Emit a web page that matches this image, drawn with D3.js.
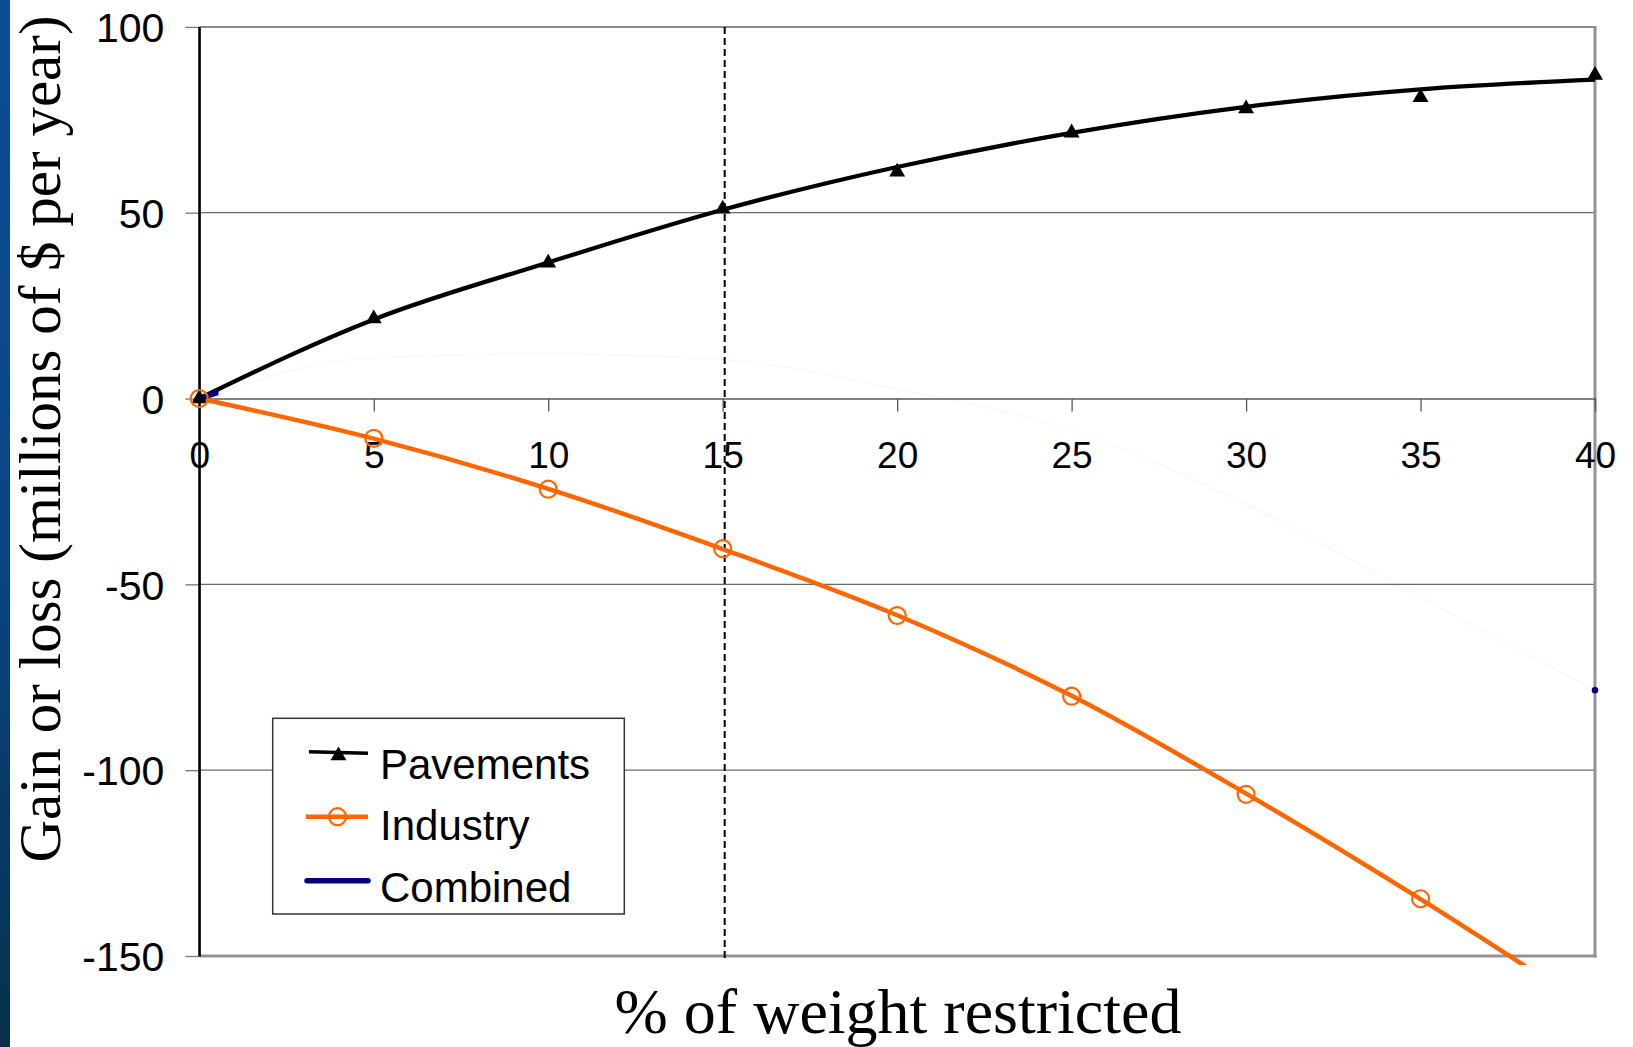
<!DOCTYPE html>
<html>
<head>
<meta charset="utf-8">
<script src="https://cdn.jsdelivr.net/npm/d3@7"></script>
<style>
  html, body { margin: 0; padding: 0; background: #ffffff; }
  svg { display: block; }
</style>
</head>
<body>
<svg id="chart" width="1633" height="1047"></svg>
<script>
// ---- data ----
const pctRestricted = [0, 5, 10, 15, 20, 25, 30, 35, 40];
const pavements     = [0, 21.5, 36.5, 51, 61, 71.5, 78, 81, 87];
const pavementsFit  = [0, 21.3, 36.6, 50.8, 62.3, 71.5, 78.5, 83.2, 85.8];
const industry      = [0, -10.7, -24.4, -40.4, -58.4, -80.1, -106.5, -134.6, -165];
const industryFit   = [0, -10.8, -24.3, -40.5, -58.3, -80, -106.3, -134.7, -165];
const combined      = [0, 11, 12, 10.5, 2.5, -8.5, -28.5, -53.5, -78.5];
const xTicks = [0, 5, 10, 15, 20, 25, 30, 35, 40];
const yTicks = [100, 50, 0, -50, -100, -150];
const markerX = 15;
const seriesNames = ["Pavements", "Industry", "Combined"];
const xTitle = "% of weight restricted";
const yTitle = "Gain or loss (millions of $ per year)";

// ---- setup ----
const svg = d3.select("#chart");
const sans = "'Liberation Sans', Arial, sans-serif";
const serif = "'Liberation Serif', 'Times New Roman', serif";
const colPave = "#000000", colInd = "#ff6600", colComb = "#000080";
const plainNum = d => String(d);   // hyphen-minus for negatives

const x = d3.scaleLinear().domain([0, 40]).range([199.3, 1595]);
const y = d3.scaleLinear().domain([-150, 100]).range([956, 26.9]);

// blue slide edge on the left
const defs = svg.append("defs");
const grad = defs.append("linearGradient").attr("id", "edge")
  .attr("x1", 0).attr("y1", 0).attr("x2", 0).attr("y2", 1);
grad.append("stop").attr("offset", "0%").attr("stop-color", "#0d4c98");
grad.append("stop").attr("offset", "55%").attr("stop-color", "#0b447f");
grad.append("stop").attr("offset", "100%").attr("stop-color", "#08304c");
svg.append("rect").attr("x", 0).attr("y", 0).attr("width", 10).attr("height", 1047)
  .attr("fill", "url(#edge)");

// clip regions for the series lines
defs.append("clipPath").attr("id", "plotClip").append("rect")
  .attr("x", x(0) - 15).attr("y", y(100) - 15)
  .attr("width", x(40) - x(0) + 15).attr("height", y(-150) - y(100) + 24);
defs.append("clipPath").attr("id", "stubClip").append("rect")
  .attr("x", x(0) - 2).attr("y", y(100))
  .attr("width", x(0.55) - x(0) + 2).attr("height", y(-150) - y(100));

// ---- gridlines and frame ----
const grid = svg.append("g");
grid.selectAll("line.g").data(yTicks.filter(v => v !== 0 && v !== 100 && v !== -150))
  .join("line").attr("class", "g")
  .attr("x1", x(0)).attr("x2", x(40))
  .attr("y1", d => y(d)).attr("y2", d => y(d))
  .attr("stroke", "#6a6a6a").attr("stroke-width", 1.3);
// top edge
grid.append("line").attr("x1", x(0)).attr("x2", x(40) + 1.5)
  .attr("y1", y(100)).attr("y2", y(100))
  .attr("stroke", "#8a8a8a").attr("stroke-width", 2);
// right and bottom edges
grid.append("line").attr("x1", x(40)).attr("x2", x(40))
  .attr("y1", y(100)).attr("y2", y(-150) + 1.5)
  .attr("stroke", "#939393").attr("stroke-width", 3);
grid.append("line").attr("x1", x(0)).attr("x2", x(40) + 1.5)
  .attr("y1", y(-150)).attr("y2", y(-150))
  .attr("stroke", "#939393").attr("stroke-width", 3);

// ---- axes ----
const yAxis = svg.append("g").attr("transform", `translate(${x(0)},0)`)
  .call(d3.axisLeft(y).tickValues(yTicks).tickSize(14).tickSizeOuter(0).tickPadding(21)
    .tickFormat(plainNum));
yAxis.select(".domain").attr("stroke", "#000").attr("stroke-width", 2);
yAxis.selectAll(".tick line").attr("stroke", "#777").attr("stroke-width", 1.3);
yAxis.selectAll(".tick text").attr("font-family", sans).attr("font-size", 41)
  .attr("fill", "#000").attr("dy", "0.36em");

const xAxis = svg.append("g").attr("transform", `translate(0,${y(0)})`)
  .call(d3.axisBottom(x).tickValues(xTicks).tickSize(13).tickSizeOuter(0).tickPadding(30)
    .tickFormat(plainNum));
xAxis.select(".domain").attr("stroke", "#5a5a5a").attr("stroke-width", 1.6);
xAxis.selectAll(".tick line").attr("stroke", "#555").attr("stroke-width", 1.3);
xAxis.selectAll(".tick text").attr("font-family", sans).attr("font-size", 37).attr("fill", "#000");
// y axis line redrawn on top of the zero line
svg.append("line").attr("x1", x(0)).attr("x2", x(0)).attr("y1", y(100)).attr("y2", y(-150))
  .attr("stroke", "#000").attr("stroke-width", 2);

// dashed marker at 15 %
svg.append("line").attr("x1", x(markerX) + 2).attr("x2", x(markerX) + 2)
  .attr("y1", y(100)).attr("y2", y(-150) + 4)
  .attr("stroke", "#000").attr("stroke-width", 2).attr("stroke-dasharray", "7,4");

// ---- series ----
const line = d3.line().x((d, i) => x(pctRestricted[i])).y(d => y(d)).curve(d3.curveMonotoneX);
const series = svg.append("g").attr("clip-path", "url(#plotClip)");

series.append("path").attr("d", line(industryFit)).attr("fill", "none")
  .attr("stroke", colInd).attr("stroke-width", 4.5).attr("stroke-linejoin", "round");
series.append("path").attr("d", line(pavementsFit)).attr("fill", "none")
  .attr("stroke", colPave).attr("stroke-width", 4.3).attr("stroke-linejoin", "round");

// combined series: faint trace with a solid start and end
series.append("path").attr("d", line(combined)).attr("fill", "none")
  .attr("stroke", colComb).attr("stroke-opacity", 0.03).attr("stroke-width", 1.5);
series.append("path").attr("d", line(combined)).attr("fill", "none")
  .attr("clip-path", "url(#stubClip)")
  .attr("stroke", colComb).attr("stroke-width", 5.5);
svg.append("circle").attr("cx", x(pctRestricted[8])).attr("cy", y(combined[8]))
  .attr("r", 3.3).attr("fill", colComb);

// markers
const tri = d3.symbol().type(d3.symbolTriangle).size(110);
svg.append("g").selectAll("path").data(pavements).join("path")
  .attr("d", tri).attr("fill", colPave)
  .attr("transform", (d, i) => `translate(${x(pctRestricted[i])},${y(d)})`);
svg.append("g").selectAll("circle")
  .data(industry.map((v, i) => [pctRestricted[i], v]).filter(p => p[1] >= -150))
  .join("circle")
  .attr("cx", d => x(d[0])).attr("cy", d => y(d[1])).attr("r", 8.5)
  .attr("fill", "none").attr("stroke", colInd).attr("stroke-width", 2.2);

// ---- legend ----
const lg = svg.append("g");
lg.append("rect").attr("x", 272.7).attr("y", 718.3).attr("width", 351.6).attr("height", 195.7)
  .attr("fill", "#fff").attr("stroke", "#333").attr("stroke-width", 1.5);
const rows = [
  { name: seriesNames[0], ly: 751.7, ty: 779.3 },
  { name: seriesNames[1], ly: 816.7, ty: 840.0 },
  { name: seriesNames[2], ly: 880.7, ty: 901.7 }
];
// Pavements
lg.append("line").attr("x1", 309).attr("x2", 368).attr("y1", rows[0].ly).attr("y2", rows[0].ly + 1.5)
  .attr("stroke", colPave).attr("stroke-width", 3.5);
lg.append("path").attr("d", tri).attr("fill", colPave)
  .attr("transform", `translate(338.5,${rows[0].ly + 4})`);
// Industry
lg.append("line").attr("x1", 306).attr("x2", 368).attr("y1", rows[1].ly).attr("y2", rows[1].ly)
  .attr("stroke", colInd).attr("stroke-width", 4.5);
lg.append("circle").attr("cx", 337.5).attr("cy", rows[1].ly).attr("r", 8.5)
  .attr("fill", "none").attr("stroke", colInd).attr("stroke-width", 2.2);
// Combined
lg.append("line").attr("x1", 307).attr("x2", 368).attr("y1", rows[2].ly).attr("y2", rows[2].ly)
  .attr("stroke", colComb).attr("stroke-width", 5.5).attr("stroke-linecap", "round");
lg.selectAll("text").data(rows).join("text")
  .attr("x", 380).attr("y", d => d.ty).text(d => d.name)
  .attr("font-family", sans).attr("font-size", 42).attr("fill", "#000");

// ---- axis titles ----
svg.append("text").attr("x", 898).attr("y", 1033).attr("text-anchor", "middle")
  .attr("font-family", serif).attr("font-size", 64).attr("fill", "#000").text(xTitle);
svg.append("text").attr("transform", "translate(60,439) rotate(-90)")
  .attr("text-anchor", "middle")
  .attr("font-family", serif).attr("font-size", 59).attr("fill", "#000").text(yTitle);
</script>
</body>
</html>
